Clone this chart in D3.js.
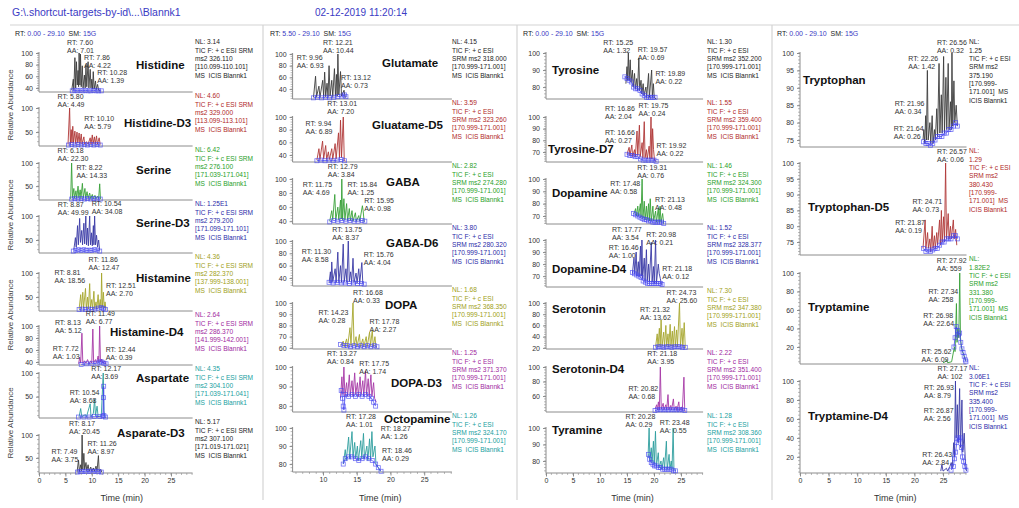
<!DOCTYPE html>
<html><head><meta charset="utf-8">
<script src="https://cdn.jsdelivr.net/npm/d3@7"></script>
<style>
body{margin:0;background:#fff}
svg{display:block;font-family:"Liberation Sans",Arial,sans-serif}
text{white-space:pre}
</style>
</head><body>
<svg id="chart" width="1019" height="508"></svg>
<script>
// ================= DATA =================
const fileTitle = "G:\\.shortcut-targets-by-id\\...\\Blannk1";
const runDate = "02-12-2019 11:20:14";
const rtRanges = [["0.00","29.10"],["5.50","29.10"],["0.00","29.10"],["0.00","29.10"]];
const smoothing = "15G";
const xDomains = [[0,29.1],[5.5,29.1],[0,29.1],[0,29.1]];
const xTickValues = [[0,5,10,15,20,25],[10,15,20,25],[0,5,10,15,20,25],[0,5,10,15,20,25]];

const compounds = ["Histidine","Histidine-D3","Serine","Serine-D3","Histamine","Histamine-D4","Aspartate","Asparate-D3",
  "Glutamate","Gluatame-D5","GABA","GABA-D6","DOPA","DOPA-D3","Octopamine",
  "Tyrosine","Tyrosine-D7","Dopamine","Dopamine-D4","Serotonin","Serotonin-D4","Tyramine",
  "Tryptophan","Tryptophan-D5","Tryptamine","Tryptamine-D4"];
const nlValues = ["3.14","4.60","6.42","1.25E1","4.36","2.64","4.35","5.17",
  "4.15","3.59","2.82","3.80","1.68","1.25","1.26",
  "1.30","1.55","1.46","1.52","7.30","2.22","1.28",
  "1.25","1.29","1.82E2","3.06E1"];
const ms2Masses = ["326.110","329.000","276.100","279.200","282.370","286.370","304.100","307.100",
  "318.000","323.260","274.280","280.320","368.350","371.370","324.170",
  "352.200","359.400","324.300","328.377","347.380","351.400","308.360",
  "375.190","380.430","331.380","335.400"];
const massRanges = ["110.099-110.101","113.099-113.101","171.039-171.041","171.099-171.101","137.999-138.001","141.999-142.001","171.039-171.041","171.019-171.021",
  "170.999-171.001","170.999-171.001","170.999-171.001","170.999-171.001","170.999-171.001","170.999-171.001","170.999-171.001",
  "170.999-171.001","170.999-171.001","170.999-171.001","170.999-171.001","170.999-171.001","170.999-171.001","170.999-171.001",
  "170.999-171.001","170.999-171.001","170.999-171.001","170.999-171.001"];
// lower limit of each relative-abundance axis (%)
const yMins = [33,21,20,23,21,35,5,17, 23,29,36,27,59,77,75.6, 73,61.4,63.5,61,18,38,72.7, 73,70.9,1.6,3];
const yTicks = [[100,80,60,40],[100,50],[100,50],[100,50],[100,50],[100,80,60,40],[100,50],[100,50],
  [100,80,60,40],[100,80,60,40],[100,80,60,40],[100,80,60,40],[100,90,80,70,60],[100,90,80],[100,90,80],
  [100,90,80],[100,90,80,70],[100,90,80,70],[100,90,80,70],[100,80,60,40,20],[100,80,60],[100,90,80],
  [100,95,90,85,80,75],[100,95,90,85,80,75],[100,80,60,40,20],[100,80,60,40,20]];

// labelled peaks: [RT, AA]
const pkHistidine = [["7.60","7.01"],["7.86","4.22"],["10.28","1.39"]];
const pkHistidineD3 = [["5.80","4.49"],["10.10","5.79"]];
const pkSerine = [["6.18","22.30"],["8.22","14.33"]];
const pkSerineD3 = [["8.87","49.99"],["10.54","34.08"]];
const pkHistamine = [["11.86","12.47"],["8.81","18.56"],["12.51","2.70"]];
const pkHistamineD4 = [["11.49","6.77"],["8.13","5.12"],["7.72","1.03"],["12.44","0.39"]];
const pkAspartate = [["12.17","3.69"],["10.54","8.68"]];
const pkAsparateD3 = [["8.17","20.45"],["7.49","3.75"],["11.26","8.97"]];
const pkGlutamate = [["12.21","10.44"],["9.96","6.93"],["13.12","0.73"]];
const pkGluatameD5 = [["13.01","7.20"],["9.94","6.89"]];
const pkGABA = [["12.79","3.84"],["11.75","4.69"],["15.84","1.25"],["15.95","0.98"]];
const pkGABAD6 = [["13.75","8.37"],["11.30","8.58"],["15.76","4.04"]];
const pkDOPA = [["16.68","0.33"],["14.23","0.28"],["17.78","2.27"]];
const pkDOPAD3 = [["13.27","0.84"],["17.75","1.74"]];
const pkOctopamine = [["17.28","1.01"],["18.27","1.26"],["18.46","0.29"]];
const pkTyrosine = [["15.25","1.32"],["19.57","0.69"],["19.89","0.22"]];
const pkTyrosineD7 = [["16.86","2.04"],["19.75","0.24"],["16.66","0.27"],["19.92","0.22"]];
const pkDopamine = [["19.31","0.76"],["17.48","0.58"],["21.13","0.48"]];
const pkDopamineD4 = [["17.77","3.54"],["20.98","0.21"],["16.46","1.00"],["21.18","0.12"]];
const pkSerotonin = [["24.73","25.60"],["21.32","13.62"]];
const pkSerotoninD4 = [["21.18","3.95"],["20.82","0.68"]];
const pkTyramine = [["20.28","0.29"],["23.48","0.55"]];
const pkTryptophan = [["26.56","0.32"],["22.26","1.42"],["21.96","0.34"],["21.64","0.26"]];
const pkTryptophanD5 = [["26.57","0.06"],["24.71","0.73"],["21.87","0.19"]];
const pkTryptamine = [["27.92","559"],["27.34","258"],["26.98","22.64"],["25.62","6.09"]];
const pkTryptamineD4 = [["27.17","102"],["26.93","8.79"],["26.87","2.56"],["26.43","2.84"]];

// chromatogram traces: [time (min), relative abundance (%)]
const trHistidine = [[6.2,36],[6.5,55],[6.6,37],[6.8,92],[6.95,40],[7.1,85],[7.25,45],[7.4,70],[7.5,42],[7.6,100],[7.75,45],[7.86,98],[8.0,42],[8.2,78],[8.35,40],[8.6,62],[8.75,40],[8.9,80],[9.05,42],[9.3,85],[9.45,40],[9.7,72],[9.85,40],[10.0,55],[10.15,38],[10.28,68],[10.45,38],[10.7,52],[10.85,37],[11.1,46],[11.3,36],[11.6,35]];
const trHistidineD3 = [[5.5,24],[5.8,100],[5.95,26],[6.1,55],[6.25,27],[6.4,62],[6.55,28],[6.8,52],[6.95,26],[7.2,50],[7.35,27],[7.6,48],[7.75,26],[8.0,46],[8.15,25],[8.5,40],[8.65,25],[9.0,30],[9.3,25],[9.7,38],[9.85,25],[10.1,44],[10.25,26],[10.5,40],[10.65,25],[10.9,42],[11.05,25],[11.4,38],[11.6,24]];
const trSerine = [[6.0,22],[6.18,100],[6.35,25],[6.6,45],[6.75,24],[7.0,40],[7.15,24],[7.4,50],[7.55,25],[7.8,42],[7.95,24],[8.22,56],[8.4,25],[8.7,45],[8.85,24],[9.1,38],[9.3,24],[9.6,35],[9.8,23],[10.1,32],[10.3,23],[10.6,30],[10.8,23],[11.1,28],[11.3,23],[11.5,55],[11.65,22]];
const trSerineD3 = [[6.6,30],[6.9,55],[7.05,35],[7.3,80],[7.45,40],[7.7,95],[7.85,45],[8.1,70],[8.25,40],[8.5,85],[8.65,42],[8.87,100],[9.0,40],[9.2,75],[9.35,38],[9.6,100],[9.75,40],[9.95,65],[10.1,38],[10.3,80],[10.4,40],[10.54,100],[10.7,40],[10.9,60],[11.1,35],[11.3,50],[11.5,28]];
const trHistamine = [[7.6,25],[7.9,55],[8.05,26],[8.3,60],[8.45,27],[8.81,68],[8.95,26],[9.2,50],[9.35,25],[9.6,78],[9.75,27],[10.0,45],[10.15,25],[10.4,62],[10.55,26],[10.8,40],[10.95,25],[11.2,55],[11.35,27],[11.6,45],[11.75,28],[11.86,100],[12.0,28],[12.2,60],[12.35,27],[12.51,40],[12.7,24]];
const trHistamineD4 = [[7.5,37],[7.72,48],[7.9,38],[8.13,88],[8.3,38],[8.6,42],[8.9,38],[9.2,44],[9.5,37],[9.8,42],[10.0,38],[10.2,95],[10.35,39],[10.7,44],[10.9,39],[11.2,50],[11.35,40],[11.49,100],[11.65,40],[11.9,45],[12.1,38],[12.44,42],[12.7,36]];
const trAspartate = [[7.6,8],[7.9,25],[8.1,8],[8.8,12],[9.0,8],[9.7,35],[9.85,8],[10.3,15],[10.54,45],[10.7,10],[11.0,30],[11.2,8],[11.8,10],[12.17,100],[12.3,20],[12.5,6]];
const trAsparateD3 = [[7.2,19],[7.49,45],[7.65,20],[7.9,35],[8.05,22],[8.17,100],[8.3,25],[8.5,60],[8.65,24],[8.9,40],[9.05,22],[9.3,35],[9.5,21],[9.8,30],[10.0,21],[10.3,28],[10.5,21],[10.8,32],[11.0,22],[11.26,55],[11.4,21],[11.7,25],[11.9,19]];
const trGlutamate = [[8.6,26],[8.9,62],[9.05,27],[9.4,45],[9.55,26],[9.96,55],[10.1,27],[10.25,69],[10.4,27],[10.6,50],[10.75,27],[10.9,80],[11.05,28],[11.3,55],[11.45,27],[11.7,75],[11.85,28],[12.0,65],[12.1,28],[12.21,100],[12.35,30],[12.6,70],[12.75,28],[13.12,38],[13.3,25]];
const trGluatameD5 = [[9.1,32],[9.4,50],[9.55,33],[9.94,62],[10.1,34],[10.4,55],[10.55,33],[10.8,45],[10.95,33],[11.3,50],[11.45,33],[11.8,58],[11.95,34],[12.3,75],[12.45,35],[12.6,95],[12.75,36],[13.01,100],[13.15,33],[13.3,30]];
const trGABA = [[11.0,40],[11.3,55],[11.45,42],[11.75,78],[11.9,42],[12.2,60],[12.35,42],[12.6,70],[12.7,43],[12.79,100],[12.9,42],[13.1,72],[13.25,42],[13.5,65],[13.65,41],[13.9,58],[14.05,41],[14.3,55],[14.45,40],[14.8,52],[14.95,40],[15.3,48],[15.45,40],[15.84,62],[15.95,55],[16.1,39]];
const trGABAD6 = [[10.9,32],[11.1,50],[11.2,33],[11.3,66],[11.45,34],[11.8,55],[11.95,33],[12.2,82],[12.35,34],[12.6,60],[12.75,33],[13.0,95],[13.15,34],[13.4,55],[13.55,33],[13.75,100],[13.9,34],[14.1,50],[14.25,33],[14.45,72],[14.6,33],[14.9,48],[15.05,32],[15.3,55],[15.45,32],[15.76,65],[15.9,31]];
const trDOPA = [[12.6,62],[13.0,66],[13.15,61],[13.5,68],[13.65,61],[14.0,78],[14.15,62],[14.45,100],[14.6,62],[14.9,70],[15.05,61],[15.4,72],[15.55,61],[15.9,68],[16.05,61],[16.4,70],[16.55,61],[16.9,74],[17.05,62],[17.3,76],[17.45,61],[17.7,70],[17.85,61],[18.0,60]];
const trDOPAD3 = [[12.6,84],[12.8,95],[12.95,86],[13.1,100],[13.25,85],[13.5,92],[13.65,85],[13.9,96],[14.05,86],[14.3,93],[14.45,85],[14.7,97],[14.85,86],[15.1,92],[15.25,85],[15.5,95],[15.65,86],[15.9,93],[16.05,85],[16.3,98],[16.45,86],[16.7,94],[16.85,85],[17.1,96],[17.25,85],[17.5,92],[17.65,84],[17.9,82]];
const trOctopamine = [[13.0,80],[13.3,88],[13.45,82],[13.8,95],[13.95,83],[14.3,98],[14.45,84],[14.7,92],[14.85,83],[15.1,90],[15.25,82],[15.6,93],[15.75,83],[16.0,97],[16.15,83],[16.5,90],[16.65,82],[16.9,94],[17.05,83],[17.25,98],[17.4,84],[17.7,90],[17.85,80],[18.2,78],[18.5,76]];
const trTyrosine = [[14.8,82],[15.0,92],[15.1,84],[15.25,100],[15.4,84],[15.6,96],[15.75,83],[16.0,90],[16.15,80],[16.4,88],[16.55,79],[16.8,85],[16.95,78],[17.2,97],[17.35,78],[17.6,84],[17.75,76],[18.0,82],[18.15,75],[18.5,80],[18.65,74],[19.0,88],[19.15,74],[19.57,90],[19.7,74],[19.89,82],[20.05,74],[20.4,73]];
const trTyrosineD7 = [[15.0,68],[15.4,74],[15.55,67],[15.9,76],[16.05,66],[16.4,72],[16.55,66],[16.86,88],[17.0,67],[17.3,93],[17.45,66],[17.8,78],[17.95,65],[18.2,96],[18.35,65],[18.6,72],[18.75,64],[19.1,75],[19.25,64],[19.45,100],[19.6,64],[19.75,90],[19.92,72],[20.1,63],[20.4,62]];
const trDopamine = [[16.3,72],[16.6,76],[16.75,70],[17.0,78],[17.15,70],[17.48,80],[17.6,69],[17.8,100],[17.95,68],[18.2,82],[18.35,67],[18.6,78],[18.75,67],[19.0,80],[19.15,66],[19.31,84],[19.5,66],[19.8,78],[19.95,66],[20.3,74],[20.45,65],[20.8,76],[20.95,65],[21.13,78],[21.3,65],[21.6,72],[21.8,64]];
const trDopamineD4 = [[16.0,72],[16.3,85],[16.45,72],[16.7,90],[16.85,70],[17.1,82],[17.25,70],[17.5,95],[17.65,70],[17.77,100],[17.9,68],[18.2,85],[18.35,66],[18.6,92],[18.75,66],[19.0,80],[19.15,65],[19.5,98],[19.65,65],[19.9,78],[20.05,64],[20.3,100],[20.45,64],[20.8,80],[20.98,72],[21.18,68],[21.4,63]];
const trSerotonin = [[20.3,22],[20.6,45],[20.75,22],[21.0,55],[21.15,23],[21.32,70],[21.5,23],[21.8,48],[21.95,22],[22.2,60],[22.35,23],[22.6,45],[22.75,22],[23.0,62],[23.15,23],[23.4,50],[23.55,22],[23.8,58],[23.95,23],[24.2,52],[24.35,22],[24.73,100],[24.9,23],[25.2,55],[25.35,22],[25.6,65],[25.8,20]];
const trSerotoninD4 = [[20.2,42],[20.5,48],[20.65,41],[20.82,52],[21.0,41],[21.18,100],[21.35,42],[21.7,50],[21.85,41],[22.2,48],[22.35,41],[22.6,62],[22.75,41],[23.1,47],[23.25,41],[23.6,56],[23.75,41],[24.1,46],[24.25,40],[24.6,52],[24.75,40],[25.1,45],[25.25,40],[25.55,86],[25.7,40],[25.9,39]];
const trTyramine = [[18.9,82],[19.1,100],[19.25,80],[19.5,88],[19.65,79],[19.9,92],[20.05,78],[20.28,98],[20.45,77],[20.8,85],[20.95,76],[21.3,80],[21.45,75],[21.8,82],[21.95,75],[22.3,92],[22.45,75],[22.8,84],[22.95,75],[23.2,80],[23.35,75],[23.55,100],[23.7,75],[24.0,74]];
const trTryptophan = [[21.5,75],[21.64,78],[21.8,74],[21.96,82],[22.1,75],[22.26,95],[22.4,75],[22.7,80],[22.85,74],[23.1,82],[23.25,74],[23.5,78],[23.65,75],[23.9,84],[24.05,76],[24.3,97],[24.45,77],[24.7,88],[24.85,77],[25.1,99],[25.25,77],[25.5,93],[25.65,78],[25.9,97],[26.05,78],[26.3,86],[26.45,78],[26.56,100],[26.7,79],[26.9,92],[27.05,80],[27.3,85],[27.5,79]];
const trTryptophanD5 = [[21.5,73],[21.87,82],[22.0,73],[22.3,78],[22.45,73],[22.7,76],[22.85,72],[23.1,80],[23.25,73],[23.5,77],[23.65,73],[23.9,78],[24.05,74],[24.4,82],[24.55,74],[24.71,85],[24.85,75],[25.1,83],[25.25,75],[25.45,100],[25.6,76],[25.9,84],[26.05,76],[26.3,80],[26.45,76],[26.8,82],[26.95,76],[27.2,79],[27.4,74]];
const trTryptamine = [[25.0,3],[25.4,4],[25.62,6],[25.8,3],[26.5,4],[26.98,20],[27.1,15],[27.34,67],[27.45,25],[27.6,40],[27.75,30],[27.92,100],[28.05,30],[28.2,20],[28.4,15],[28.6,12],[28.8,8],[29.0,5]];
const trTryptamineD4 = [[24.6,5],[24.8,12],[25.0,5],[25.6,8],[25.8,5],[26.2,10],[26.43,14],[26.6,8],[26.87,35],[27.0,20],[27.17,100],[27.3,40],[27.5,75],[27.65,35],[27.9,92],[28.05,30],[28.3,80],[28.45,25],[28.7,45],[28.9,15],[29.1,5]];

// ICIS baseline points (blue squares)
const bsHistidine = [[6.3,35],[6.8,36],[7.3,35],[7.8,36],[8.3,35],[8.8,36],[9.3,35],[9.8,35],[10.3,36],[10.8,35],[11.3,35],[11.8,35]];
const bsHistidineD3 = [[5.6,23],[6.2,24],[6.8,23],[7.4,24],[8.0,23],[8.6,24],[9.2,23],[9.8,24],[10.4,23],[11.0,24],[11.6,23]];
const bsSerine = [[6.2,22],[6.8,23],[7.4,22],[8.0,23],[8.6,22],[9.2,23],[9.8,22],[10.4,23],[11.0,22],[11.6,22]];
const bsSerineD3 = [[6.5,27],[7.0,28],[7.5,30],[8.0,28],[8.5,30],[9.0,28],[9.5,29],[10.0,28],[10.5,30],[11.0,29],[11.5,27]];
const bsHistamine = [[7.6,24],[8.2,25],[8.8,24],[9.4,25],[10.0,24],[10.6,25],[11.2,27],[11.8,28],[12.2,26],[12.6,24]];
const bsHistamineD4 = [[8.0,36],[9.0,37],[10.0,37],[11.0,38],[11.5,40],[11.9,40],[12.3,38],[12.7,37]];
const bsAspartate = [[7.5,7],[8.5,7],[9.5,7],[10.5,8],[11.5,8],[12.1,9],[12.2,48],[12.25,72],[12.3,10],[12.6,7]];
const bsAsparateD3 = [[7.3,19],[7.8,20],[8.3,20],[8.8,21],[9.3,20],[9.8,21],[10.3,20],[10.8,21],[11.3,20],[11.8,19]];
const bsGlutamate = [[8.6,25],[9.2,26],[9.8,25],[10.4,26],[11.0,25],[11.6,26],[12.2,27],[12.8,28],[13.2,30],[13.4,27]];
const bsGluatameD5 = [[9.1,31],[9.7,32],[10.3,31],[10.9,32],[11.5,31],[12.1,32],[12.7,33],[13.2,31]];
const bsGABA = [[11.0,39],[11.6,41],[12.2,40],[12.8,41],[13.4,40],[14.0,41],[14.6,40],[15.2,40],[15.8,41],[16.2,40]];
const bsGABAD6 = [[10.9,33],[11.5,32],[12.1,33],[12.7,32],[13.3,32],[13.9,31],[14.5,32],[15.1,31],[15.7,31],[16.1,30]];
const bsDOPA = [[12.6,63],[13.1,62],[13.6,62],[14.1,61],[14.6,62],[15.1,61],[15.6,62],[16.1,61],[16.6,62],[17.1,61],[17.6,62],[18.0,61]];
const bsDOPAD3 = [[12.7,88],[12.9,84],[13.0,80],[13.1,78],[13.3,86],[13.8,85],[14.3,86],[14.8,85],[15.3,86],[15.8,85],[16.3,86],[16.8,85],[17.2,84],[17.5,82],[17.8,80]];
const bsOctopamine = [[13.0,80],[13.3,83],[13.8,84],[14.3,84],[14.8,83],[15.3,82],[15.8,83],[16.3,84],[16.8,83],[17.3,82],[17.8,80],[18.2,78],[18.6,76]];
const bsTyrosine = [[14.6,86],[15.0,85],[15.4,84],[15.8,83],[16.2,80],[16.6,79],[17.0,79],[17.4,78],[17.8,76],[18.2,75],[18.6,74],[19.0,74],[19.4,74],[19.8,74],[20.2,74]];
const bsTyrosineD7 = [[15.0,68],[15.5,67],[16.0,67],[16.5,66],[17.0,66],[17.5,64],[18.0,63],[18.5,63],[19.0,63],[19.5,63],[20.0,63],[20.4,62]];
const bsDopamine = [[16.2,72],[16.6,71],[17.0,70],[17.4,69],[17.8,68],[18.2,67],[18.6,67],[19.0,66],[19.4,66],[19.8,65],[20.2,65],[20.6,65],[21.0,65],[21.4,65],[21.8,64]];
const bsDopamineD4 = [[16.0,73],[16.4,72],[16.8,71],[17.2,70],[17.6,69],[18.0,66],[18.4,65],[18.8,64],[19.2,64],[19.6,64],[20.0,64],[20.4,64],[20.8,64],[21.2,64],[21.5,63]];
const bsSerotonin = [[20.3,21],[20.8,22],[21.3,22],[21.8,21],[22.3,22],[22.8,22],[23.3,21],[23.8,22],[24.3,22],[24.8,22],[25.3,21],[25.8,21]];
const bsSerotoninD4 = [[20.2,40],[20.7,41],[21.2,41],[21.7,41],[22.2,41],[22.7,41],[23.2,41],[23.7,41],[24.2,41],[24.7,41],[25.2,41],[25.7,40]];
const bsTyramine = [[19.0,84],[19.2,81],[19.5,79],[19.8,78],[20.1,77],[20.4,77],[20.8,76],[21.2,76],[21.6,75],[22.0,75],[22.4,75],[22.8,75],[23.2,75],[23.6,74],[24.0,74]];
const bsTryptophan = [[21.6,74.5],[22.0,74],[22.4,74],[22.8,73.5],[23.2,74],[23.6,75],[24.0,76],[24.4,76],[24.8,76],[25.2,77],[25.6,77],[26.0,78],[26.4,78],[26.8,79],[27.2,80],[27.5,79]];
const bsTryptophanD5 = [[21.6,73],[22.0,72],[22.4,72.5],[22.8,72],[23.2,72.5],[23.6,73],[24.0,73],[24.4,74],[24.8,75],[25.2,75],[25.6,76],[26.0,76],[26.4,76],[26.8,77],[27.2,77],[27.5,76]];
const bsTryptamine = [[26.9,20],[27.1,30],[27.3,42],[27.5,38],[27.7,33],[27.9,35],[28.1,25],[28.3,18],[28.5,14],[28.7,10],[28.9,6],[29.0,4]];
const bsTryptamineD4 = [[26.4,6],[26.8,10],[27.0,18],[27.2,25],[27.4,35],[27.6,40],[27.8,38],[28.0,40],[28.2,30],[28.4,20],[28.6,15],[28.8,10],[29.0,6]];

const peaks = [pkHistidine,pkHistidineD3,pkSerine,pkSerineD3,pkHistamine,pkHistamineD4,pkAspartate,pkAsparateD3,
  pkGlutamate,pkGluatameD5,pkGABA,pkGABAD6,pkDOPA,pkDOPAD3,pkOctopamine,
  pkTyrosine,pkTyrosineD7,pkDopamine,pkDopamineD4,pkSerotonin,pkSerotoninD4,pkTyramine,
  pkTryptophan,pkTryptophanD5,pkTryptamine,pkTryptamineD4];
const traces = [trHistidine,trHistidineD3,trSerine,trSerineD3,trHistamine,trHistamineD4,trAspartate,trAsparateD3,
  trGlutamate,trGluatameD5,trGABA,trGABAD6,trDOPA,trDOPAD3,trOctopamine,
  trTyrosine,trTyrosineD7,trDopamine,trDopamineD4,trSerotonin,trSerotoninD4,trTyramine,
  trTryptophan,trTryptophanD5,trTryptamine,trTryptamineD4];
const baselines = [bsHistidine,bsHistidineD3,bsSerine,bsSerineD3,bsHistamine,bsHistamineD4,bsAspartate,bsAsparateD3,
  bsGlutamate,bsGluatameD5,bsGABA,bsGABAD6,bsDOPA,bsDOPAD3,bsOctopamine,
  bsTyrosine,bsTyrosineD7,bsDopamine,bsDopamineD4,bsSerotonin,bsSerotoninD4,bsTyramine,
  bsTryptophan,bsTryptophanD5,bsTryptamine,bsTryptamineD4];

// ================= LAYOUT / STYLE =================
const panelCol = [0,0,0,0,0,0,0,0, 1,1,1,1,1,1,1, 2,2,2,2,2,2,2, 3,3,3,3];
const colLayout = [
  {x0:39, x1:192.6, textX:195, rtX:15},
  {x0:292.6, x1:451.9, textX:452, rtX:270},
  {x0:546, x1:703.1, textX:707, rtX:523},
  {x0:800, x1:966.5, textX:969, rtX:777}
];
const panelTop = [53,108,163,216,273,326,373,435, 54,117,179,241,303,367,428, 53,117,179,240,303,367,428, 53,163,273,381];
const panelBase = [92,146,200,253,311,365,418,473, 99,162,224,286,349,412,472, 99,162,224,287,349,412,473, 147,255,364,473];
const nameX = [136,124,136,136,136,110,136,117, 382,372,386,386,385,391,384, 552,548,552,552,552,552,552, 803,808,808,808];
const nameDy = [12,15,7,7,5,6,5,-2, 9,8,3,2,2,16,-9, 17,32,14,29,6,2,2, 27,44,34,35];
const labelOffsets = [
  [[-12,-11],[3.5,4],[4,19]], [[-12,-12],[-8,10]], [[-14,-13],[-6,4]], [[-28,-12],[-3,-13]],
  [[-13,-14],[-31,-1],[1,12]], [[-14,-13],[-27,-4],[-27,22],[1,23]], [[-12,-5],[-25,19]], [[-13,-12],[-27,16],[-11,8]],
  [[-15,-12],[-26,3],[-3,23]], [[-16,-14],[-17,6]], [[-14,-13],[-32,5],[-15,5],[1,21]], [[-16,-12],[-30,10],[2,13]],
  [[-15,-11],[-33,9],[-6,18]], [[-18,-14],[-16,-4]], [[-26,-12],[2,0],[2,22]],
  [[-25,-11],[-14,-4],[2,20]], [[-32,-9],[-14,-12],[-31,15],[3,28]], [[-13,-12],[-30,4],[-5,20]], [[-30,-11],[-13,-6],[-26,7],[2,28]],
  [[-13,-11],[-21,6]], [[-13,-14],[-30,21]], [[-30,-12],[-13,-6]],
  [[-15,-11],[-19,5],[-31,50],[-30,75]], [[-15,-12],[-29,38],[-30,59]], [[-23,-13],[-28,18],[-31,42],[-25,78]], [[-18,-13],[-30,6],[-30,29],[-29,73]]
];
const palette = ["#3c3c3c","#b03838","#38a038","#3a3aa6","#a6a62c","#a638a6","#2e9e9e"];
const textPalette = ["#222222","#b02828","#28a028","#2a2aa8","#a0a020","#a028a0","#20a0a0"];
const squareColor = "#4646f0";
const axisColor = "#8c8c8c";
const titleBlue = "#3a3ac4";
const yLabelCenters = [105,215,315,423];

// ================= DRAW =================
const svg = d3.select("#chart");
svg.append("rect").attr("width",1019).attr("height",508).attr("fill","#fff");

svg.append("text").attr("x",12).attr("y",16).attr("font-size",10.5).attr("fill",titleBlue).text(fileTitle);
svg.append("text").attr("x",315).attr("y",16).attr("font-size",10).attr("fill",titleBlue).text(runDate);

// frame lines
svg.append("line").attr("x1",10).attr("x2",1019).attr("y1",25).attr("y2",25).attr("stroke","#d4d4d4").attr("stroke-width",1.2);
[263,517,772].forEach(xv=>{
  svg.append("line").attr("x1",xv).attr("x2",xv).attr("y1",25).attr("y2",500).attr("stroke","#d4d4d4").attr("stroke-width",1.2);
});

// RT range headers
colLayout.forEach((cl,c)=>{
  const t = svg.append("text").attr("x",cl.rtX).attr("y",35.5).attr("font-size",7);
  t.append("tspan").attr("fill","#222").text("RT: ");
  t.append("tspan").attr("fill",titleBlue).text(rtRanges[c][0]+" - "+rtRanges[c][1]);
  t.append("tspan").attr("fill","#222").text("  SM: ");
  t.append("tspan").attr("fill",titleBlue).text(smoothing);
});

// y-axis titles (first column)
yLabelCenters.forEach(cy=>{
  svg.append("text").attr("transform",`translate(13,${cy}) rotate(-90)`).attr("text-anchor","middle")
    .attr("font-size",8).attr("fill","#444").text("Relative Abundance");
});

const lastInCol = [7,14,21,25];
const firstInCol = [0,8,15,22];

compounds.forEach((name,i)=>{
  const c = panelCol[i];
  const cl = colLayout[c];
  const k = i - firstInCol[c];
  const color = palette[k % palette.length];
  const tcolor = textPalette[k % textPalette.length];
  const x = d3.scaleLinear().domain(xDomains[c]).range([cl.x0, cl.x1]);
  const y = d3.scaleLinear().domain([yMins[i],100]).range([panelBase[i], panelTop[i]]);
  const g = svg.append("g");

  // baseline + y axis line
  g.append("line").attr("x1",cl.x0).attr("x2",cl.x1).attr("y1",panelBase[i]).attr("y2",panelBase[i]).attr("stroke",axisColor).attr("stroke-width",1);
  g.append("line").attr("x1",cl.x0).attr("x2",cl.x0).attr("y1",panelBase[i]).attr("y2",panelTop[i]-1).attr("stroke",axisColor).attr("stroke-width",1);

  // minor y ticks
  const tv = yTicks[i];
  const step = (tv[0]-tv[1])/5;
  const minors = d3.range(100, yMins[i], -step);
  g.selectAll(".ymin").data(minors).join("line")
    .attr("x1",cl.x0-2).attr("x2",cl.x0).attr("y1",d=>y(d)).attr("y2",d=>y(d))
    .attr("stroke",axisColor).attr("stroke-width",0.6);
  const ya = g.append("g").attr("transform",`translate(${cl.x0},0)`)
    .call(d3.axisLeft(y).tickValues(tv).tickSize(3).tickPadding(3).tickFormat(d3.format("d")));
  ya.select(".domain").remove();
  ya.selectAll("line").attr("stroke",axisColor);
  ya.selectAll("text").attr("font-size",7).attr("fill","#333").attr("font-family","Liberation Sans, Arial, sans-serif");

  // trace
  g.append("path").datum(traces[i])
    .attr("d", d3.line().x(d=>x(d[0])).y(d=>y(d[1])))
    .attr("fill","none").attr("stroke",color).attr("stroke-width",0.9).attr("stroke-linejoin","round");

  // ICIS baseline squares
  g.append("path").datum(baselines[i])
    .attr("d", d3.line().x(d=>x(d[0])).y(d=>y(d[1])))
    .attr("fill","none").attr("stroke",squareColor).attr("stroke-width",1).attr("opacity",0.8);
  g.selectAll(".sq").data(baselines[i]).join("rect")
    .attr("x",d=>x(d[0])-2).attr("y",d=>y(d[1])-2).attr("width",4).attr("height",4)
    .attr("fill","none").attr("stroke",squareColor).attr("stroke-width",0.8).attr("opacity",0.75);

  // compound name
  g.append("text").attr("x",nameX[i]).attr("y",panelTop[i]+nameDy[i]+4)
    .attr("font-size",11.5).attr("font-weight","bold").attr("fill","#111").text(name);

  // peak labels
  peaks[i].forEach((p,j)=>{
    const off = labelOffsets[i][j];
    const lx = x(+p[0]) + off[0];
    const ly = panelTop[i] + off[1];
    const t = g.append("text").attr("font-size",7).attr("fill","#333");
    t.append("tspan").attr("x",lx).attr("y",ly+2.5).text("RT: "+p[0]);
    t.append("tspan").attr("x",lx).attr("y",ly+10.5).text("AA: "+p[1]);
  });

  // info block
  const nlY = (k===0) ? 42 : panelBase[i-1]+4;
  let lines;
  if (c===0) lines = ["NL: "+nlValues[i],"TIC F: + c ESI SRM","ms2 "+ms2Masses[i],"["+massRanges[i]+"]","MS  ICIS Blannk1"];
  else if (c<3) lines = ["NL: "+nlValues[i],"TIC F: + c ESI","SRM ms2 "+ms2Masses[i],"["+massRanges[i]+"]","MS  ICIS Blannk1"];
  else {
    const parts = massRanges[i].split("-");
    lines = ["NL:",nlValues[i],"TIC F: + c ESI","SRM ms2",ms2Masses[i],"["+parts[0]+"-",parts[1]+"]  MS","ICIS Blannk1"];
  }
  const info = g.append("text").attr("font-size",6.6).attr("fill",tcolor);
  lines.forEach((ln,j)=>{
    info.append("tspan").attr("x",cl.textX).attr("y",nlY+2.4+j*8.3).text(ln);
  });

  // time axis on last panel of each column
  if (i===lastInCol[c]) {
    const minorX = d3.range(Math.ceil(xDomains[c][0]), 29.1, 1);
    g.selectAll(".xmin").data(minorX).join("line")
      .attr("x1",d=>x(d)).attr("x2",d=>x(d)).attr("y1",panelBase[i]).attr("y2",panelBase[i]+2)
      .attr("stroke",axisColor).attr("stroke-width",0.6);
    const xa = g.append("g").attr("transform",`translate(0,${panelBase[i]})`)
      .call(d3.axisBottom(x).tickValues(xTickValues[c]).tickSize(3.5).tickPadding(2).tickFormat(d3.format("d")));
    xa.select(".domain").remove();
    xa.selectAll("line").attr("stroke",axisColor);
    xa.selectAll("text").attr("font-size",7).attr("fill","#333").attr("font-family","Liberation Sans, Arial, sans-serif");
    svg.append("text").attr("x",(cl.x0+cl.x1)/2 - (c===1?-8:c===0?-6:c===3?-12:-8)).attr("y",501)
      .attr("text-anchor","middle").attr("font-size",9).attr("fill","#333").text("Time (min)");
  }
});
</script>
</body></html>
